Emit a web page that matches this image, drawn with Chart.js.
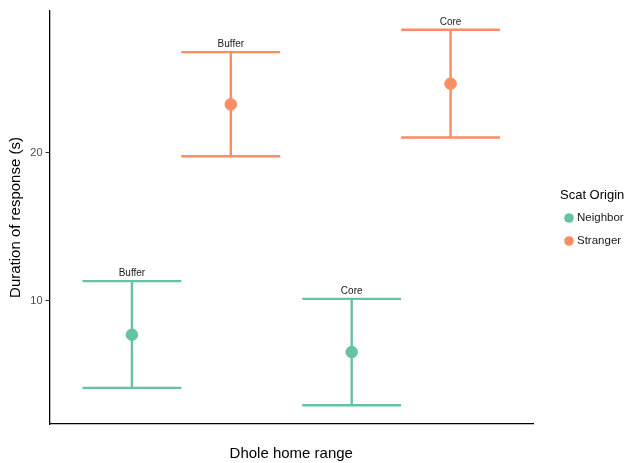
<!DOCTYPE html>
<html lang="en">
<head>
  <meta charset="UTF-8" />
  <title>Dhole scat response</title>
  <script src="https://cdn.jsdelivr.net/npm/chart.js"></script>
  <style>
    html, body { margin: 0; padding: 0; background: #fff; }
    #wrap { width: 633px; height: 463px; position: relative; }
  </style>
</head>
<body>
  <div id="wrap"><canvas id="chart" width="633" height="463"></canvas></div>

  <script>
    // data
    const homeRanges = ['Buffer', 'Core'];
    const origins = ['Neighbor', 'Stranger'];
    const colors = ['#66c2a5', '#fc8d62'];

    const neighborMean = [7.71, 6.54];
    const neighborLow = [4.12, 2.95];
    const neighborHigh = [11.33, 10.13];

    const strangerMean = [23.27, 24.67];
    const strangerLow = [19.77, 21.03];
    const strangerHigh = [26.8, 28.31];

    const yTicks = [10, 20];

    // dodge position of each group inside a category
    const dodge = [-0.225, 0.225];
    const capHalf = 0.225;

    const means = [neighborMean, strangerMean];
    const lows = [neighborLow, strangerLow];
    const highs = [neighborHigh, strangerHigh];

    const datasets = origins.map((name, g) => ({
      label: name,
      data: homeRanges.map((r, i) => ({ x: i + 1 + dodge[g], y: means[g][i], lo: lows[g][i], hi: highs[g][i], lab: r })),
      backgroundColor: colors[g],
      borderColor: colors[g],
      pointRadius: 5.8,
      pointHoverRadius: 5.8,
      showLine: false
    }));

    // whiskers + labels, drawn through the scales
    const errorBars = {
      id: 'errorBars',
      beforeDatasetsDraw(chart) {
        const { ctx, scales: { x, y } } = chart;
        ctx.save();
        ctx.lineWidth = 2.4;
        chart.data.datasets.forEach(ds => {
          ctx.strokeStyle = ds.borderColor;
          ds.data.forEach(p => {
            const px = x.getPixelForValue(p.x);
            const x0 = x.getPixelForValue(p.x - capHalf);
            const x1 = x.getPixelForValue(p.x + capHalf);
            const yl = y.getPixelForValue(p.lo);
            const yh = y.getPixelForValue(p.hi);
            ctx.beginPath();
            ctx.moveTo(px, yl); ctx.lineTo(px, yh);
            ctx.moveTo(x0, yl); ctx.lineTo(x1, yl);
            ctx.moveTo(x0, yh); ctx.lineTo(x1, yh);
            ctx.stroke();
          });
        });
        ctx.fillStyle = '#1a1a1a';
        ctx.font = '10px "Liberation Sans", Arial, sans-serif';
        ctx.textAlign = 'center';
        ctx.textBaseline = 'middle';
        chart.data.datasets.forEach(ds => {
          ds.data.forEach(p => {
            ctx.fillText(p.lab, x.getPixelForValue(p.x), y.getPixelForValue(p.hi) - 8);
          });
        });
        ctx.restore();
      },
      afterDraw(chart) {
        // legend on the right
        const ctx = chart.ctx;
        ctx.save();
        ctx.textBaseline = 'middle';
        ctx.textAlign = 'left';
        ctx.fillStyle = '#000';
        ctx.font = '13px "Liberation Sans", Arial, sans-serif';
        ctx.fillText('Scat Origin', 560, 195);
        ctx.font = '11.5px "Liberation Sans", Arial, sans-serif';
        origins.forEach((name, g) => {
          const cy = 218 + g * 23;
          ctx.fillStyle = colors[g];
          ctx.beginPath();
          ctx.arc(569, cy, 4.8, 0, Math.PI * 2);
          ctx.fill();
          ctx.fillStyle = '#1a1a1a';
          ctx.fillText(name, 577, cy);
        });
        ctx.restore();
      }
    };

    new Chart(document.getElementById('chart'), {
      type: 'scatter',
      data: { datasets },
      plugins: [errorBars],
      options: {
        responsive: false,
        animation: false,
        layout: { padding: { left: 0, right: 100, top: 11, bottom: 0 } },
        plugins: { legend: { display: false }, tooltip: { enabled: false } },
        scales: {
          x: {
            type: 'linear',
            min: 0.4,
            max: 2.6,
            grid: { display: false },
            border: { display: true, color: '#000', width: 1.3 },
            ticks: { display: false },
            title: {
              display: true,
              text: 'Dhole home range',
              color: '#000',
              font: { family: '"Liberation Sans", Arial, sans-serif', size: 15 },
              padding: { top: 0, bottom: 0 }
            },
            afterFit(s) { s.height = 39; }
          },
          y: {
            min: 1.68,
            max: 29.58,
            afterBuildTicks(s) { s.ticks = yTicks.map(v => ({ value: v })); },
            grid: { display: true, drawOnChartArea: false, drawTicks: true, tickLength: 4, color: '#333', lineWidth: 1 },
            border: { display: true, color: '#000', width: 1.3 },
            ticks: {
              color: '#4d4d4d',
              padding: 3,
              font: { family: '"Liberation Sans", Arial, sans-serif', size: 11 }
            },
            title: {
              display: true,
              text: 'Duration of response (s)',
              color: '#000',
              font: { family: '"Liberation Sans", Arial, sans-serif', size: 15 },
              padding: { top: 7, bottom: 0 }
            },
            afterFit(s) { s.width = 49.5; }
          }
        }
      }
    });
  </script>
</body>
</html>
